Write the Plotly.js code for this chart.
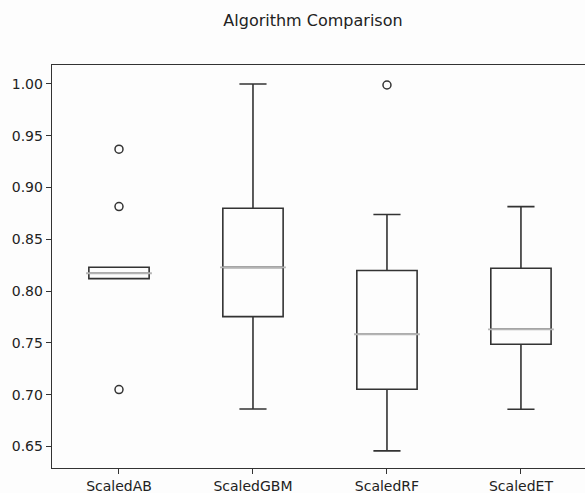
<!DOCTYPE html>
<html>
<head>
<meta charset="utf-8">
<script src="https://cdn.plot.ly/plotly-3.0.1.min.js"></script>
<style>html,body{margin:0;padding:0;background:#fdfdfd;}</style>
</head>
<body>
<div id="chart" style="width:585px;height:493px;"></div>
<script>
const categories = ["ScaledAB", "ScaledGBM", "ScaledRF", "ScaledET"];
const q1Values = [0.8121, 0.7754, 0.7053, 0.7488];
const medianValues = [0.8173, 0.8230, 0.7584, 0.7632];
const q3Values = [0.8231, 0.8800, 0.8200, 0.8221];
const lowerWhisker = [0.8121, 0.6863, 0.6458, 0.6860];
const upperWhisker = [0.8231, 1.0000, 0.8740, 0.8816];
const outlierCategories = ["ScaledAB", "ScaledAB", "ScaledAB", "ScaledRF"];
const outlierValues = [0.9370, 0.8816, 0.7050, 0.9990];
const yTickValues = [0.65, 0.70, 0.75, 0.80, 0.85, 0.90, 0.95, 1.00];
const yTickLabels = ["0.65", "0.70", "0.75", "0.80", "0.85", "0.90", "0.95", "1.00"];

const ink = "#333333";
const traces = [
  {
    type: "box",
    x: categories,
    q1: q1Values,
    median: medianValues,
    q3: q3Values,
    lowerfence: lowerWhisker,
    upperfence: upperWhisker,
    width: 0.45,
    whiskerwidth: 0.45,
    line: {color: ink, width: 1.6},
    fillcolor: "rgba(0,0,0,0)",
    boxpoints: false,
    hoverinfo: "skip",
    showlegend: false
  },
  {
    type: "scatter",
    mode: "markers",
    x: categories,
    y: medianValues,
    marker: {symbol: "line-ew", size: 47, color: "#b4b4b4", line: {color: "#b4b4b4", width: 1.8}},
    hoverinfo: "skip",
    showlegend: false
  },
  {
    type: "scatter",
    mode: "markers",
    x: outlierCategories,
    y: outlierValues,
    marker: {symbol: "circle-open", size: 8, color: ink, line: {color: ink, width: 1.5}},
    hoverinfo: "skip",
    showlegend: false
  }
];

const layout = {
  width: 585,
  height: 493,
  margin: {l: 52, r: 0, t: 65, b: 25},
  paper_bgcolor: "#fdfdfd",
  plot_bgcolor: "#fdfdfd",
  font: {family: "DejaVu Sans", color: ink},
  title: {
    text: "Algorithm Comparison",
    font: {family: "DejaVu Sans", size: 16, color: "#222"},
    xref: "container", yref: "container",
    x: 0.535, xanchor: "center",
    y: 1 - 20 / 493, yanchor: "middle"
  },
  xaxis: {
    type: "category",
    range: [-0.5, 3.478],
    showgrid: false,
    zeroline: false,
    showline: true,
    linecolor: ink,
    linewidth: 1.3,
    mirror: true,
    ticks: "outside",
    ticklen: 5,
    tickcolor: ink,
    tickfont: {family: "DejaVu Sans", size: 14, color: "#222"}
  },
  yaxis: {
    range: [0.6293, 1.0183],
    showgrid: false,
    zeroline: false,
    showline: true,
    linecolor: ink,
    linewidth: 1.3,
    ticks: "outside",
    ticklen: 5,
    tickcolor: ink,
    tickvals: yTickValues,
    ticktext: yTickLabels,
    tickfont: {family: "DejaVu Sans", size: 14, color: "#222"}
  }
};

Plotly.newPlot("chart", traces, layout, {staticPlot: true, displayModeBar: false});
</script>
</body>
</html>
